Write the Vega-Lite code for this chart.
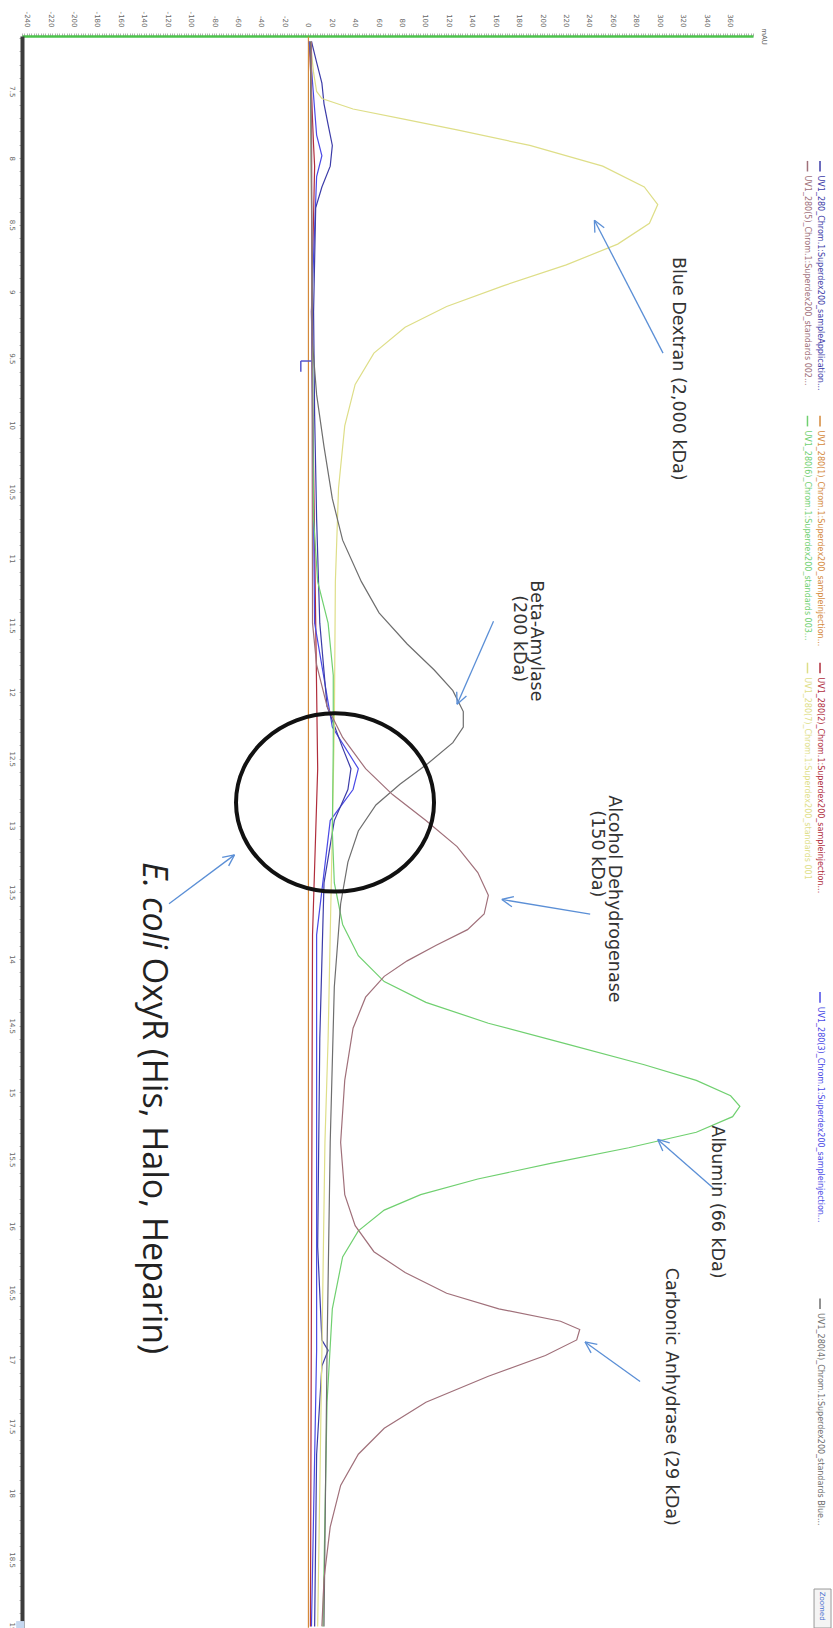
{
  "$schema": "https://vega.github.io/schema/vega-lite/v6.json",
  "width": 731,
  "height": 1592,
  "autosize": {"type": "none"},
  "padding": {"left": 22, "top": 36, "right": 80, "bottom": 0},
  "background": "white",
  "config": {"view": {"stroke": null}, "font": "Liberation Sans"},
  "datasets": {
    "curves": [
      {"key": "r1", "ml": 7.09, "mAU": 0.5}, {"key": "r1", "ml": 19.01, "mAU": 0.5},
      {"key": "r2", "ml": 7.126, "mAU": 1.3}, {"key": "r2", "ml": 7.905, "mAU": 4.9}, {"key": "r2", "ml": 8.06, "mAU": 5.8}, {"key": "r2", "ml": 9.15, "mAU": 3.1}, {"key": "r2", "ml": 12.574, "mAU": 8.4}, {"key": "r2", "ml": 13.819, "mAU": 4}, {"key": "r2", "ml": 19.0, "mAU": 2.2},
      {"key": "r3", "ml": 7.126, "mAU": 1.3}, {"key": "r3", "ml": 7.827, "mAU": 7.5}, {"key": "r3", "ml": 7.982, "mAU": 12}, {"key": "r3", "ml": 8.138, "mAU": 7.5}, {"key": "r3", "ml": 9.15, "mAU": 3.1}, {"key": "r3", "ml": 11.484, "mAU": 5.8}, {"key": "r3", "ml": 12.263, "mAU": 20.9}, {"key": "r3", "ml": 12.574, "mAU": 43.1}, {"key": "r3", "ml": 12.73, "mAU": 38.6}, {"key": "r3", "ml": 12.963, "mAU": 19.1}, {"key": "r3", "ml": 13.819, "mAU": 7.5}, {"key": "r3", "ml": 16.932, "mAU": 7.5}, {"key": "r3", "ml": 19.0, "mAU": 3.1},
      {"key": "app", "ml": 7.126, "mAU": 3.1}, {"key": "app", "ml": 7.282, "mAU": 7.5}, {"key": "app", "ml": 7.438, "mAU": 12}, {"key": "app", "ml": 7.593, "mAU": 13.8}, {"key": "app", "ml": 7.749, "mAU": 17.3}, {"key": "app", "ml": 7.905, "mAU": 20.9}, {"key": "app", "ml": 8.06, "mAU": 19.1}, {"key": "app", "ml": 8.216, "mAU": 12}, {"key": "app", "ml": 8.372, "mAU": 6.7}, {"key": "app", "ml": 9.15, "mAU": 4.9}, {"key": "app", "ml": 9.928, "mAU": 5.8}, {"key": "app", "ml": 10.706, "mAU": 7.5}, {"key": "app", "ml": 11.484, "mAU": 10.2}, {"key": "app", "ml": 12.107, "mAU": 16.4}, {"key": "app", "ml": 12.418, "mAU": 29.7}, {"key": "app", "ml": 12.574, "mAU": 36.8}, {"key": "app", "ml": 12.73, "mAU": 34.2}, {"key": "app", "ml": 12.963, "mAU": 22.6}, {"key": "app", "ml": 13.43, "mAU": 13.8}, {"key": "app", "ml": 14.597, "mAU": 10.2}, {"key": "app", "ml": 16.154, "mAU": 8.4}, {"key": "app", "ml": 16.854, "mAU": 12}, {"key": "app", "ml": 16.932, "mAU": 17.3}, {"key": "app", "ml": 17.049, "mAU": 12}, {"key": "app", "ml": 17.71, "mAU": 7.5}, {"key": "app", "ml": 19.0, "mAU": 5.8},
      {"key": "s7", "ml": 7.126, "mAU": 2.2}, {"key": "s7", "ml": 7.36, "mAU": 4.9}, {"key": "s7", "ml": 7.5, "mAU": 7.5}, {"key": "s7", "ml": 7.554, "mAU": 12}, {"key": "s7", "ml": 7.632, "mAU": 38.6}, {"key": "s7", "ml": 7.71, "mAU": 83}, {"key": "s7", "ml": 7.788, "mAU": 127.4}, {"key": "s7", "ml": 7.905, "mAU": 189.5}, {"key": "s7", "ml": 8.06, "mAU": 251.7}, {"key": "s7", "ml": 8.216, "mAU": 287.2}, {"key": "s7", "ml": 8.348, "mAU": 298.7}, {"key": "s7", "ml": 8.488, "mAU": 291.6}, {"key": "s7", "ml": 8.644, "mAU": 264.5}, {"key": "s7", "ml": 8.8, "mAU": 220.6}, {"key": "s7", "ml": 8.955, "mAU": 167.3}, {"key": "s7", "ml": 9.111, "mAU": 118.5}, {"key": "s7", "ml": 9.267, "mAU": 83}, {"key": "s7", "ml": 9.461, "mAU": 56.4}, {"key": "s7", "ml": 9.695, "mAU": 40.4}, {"key": "s7", "ml": 10.006, "mAU": 31.5}, {"key": "s7", "ml": 10.473, "mAU": 26.2}, {"key": "s7", "ml": 11.173, "mAU": 23.5}, {"key": "s7", "ml": 12.263, "mAU": 22.6}, {"key": "s7", "ml": 13.041, "mAU": 20.9}, {"key": "s7", "ml": 13.819, "mAU": 19.1}, {"key": "s7", "ml": 14.597, "mAU": 17.3}, {"key": "s7", "ml": 15.375, "mAU": 14.6}, {"key": "s7", "ml": 16.932, "mAU": 12}, {"key": "s7", "ml": 19.0, "mAU": 8.4},
      {"key": "s6", "ml": 7.126, "mAU": 2.2}, {"key": "s6", "ml": 10.706, "mAU": 4.9}, {"key": "s6", "ml": 11.173, "mAU": 8.4}, {"key": "s6", "ml": 11.484, "mAU": 17.3}, {"key": "s6", "ml": 11.874, "mAU": 21.7}, {"key": "s6", "ml": 12.418, "mAU": 21.7}, {"key": "s6", "ml": 13.041, "mAU": 20.9}, {"key": "s6", "ml": 13.43, "mAU": 22.6}, {"key": "s6", "ml": 13.741, "mAU": 29.7}, {"key": "s6", "ml": 13.975, "mAU": 43.1}, {"key": "s6", "ml": 14.169, "mAU": 65.2}, {"key": "s6", "ml": 14.325, "mAU": 100.8}, {"key": "s6", "ml": 14.481, "mAU": 154.1}, {"key": "s6", "ml": 14.636, "mAU": 220.6}, {"key": "s6", "ml": 14.792, "mAU": 287.2}, {"key": "s6", "ml": 14.909, "mAU": 331.6}, {"key": "s6", "ml": 15.025, "mAU": 360.9}, {"key": "s6", "ml": 15.103, "mAU": 368.8}, {"key": "s6", "ml": 15.181, "mAU": 362.6}, {"key": "s6", "ml": 15.298, "mAU": 331.6}, {"key": "s6", "ml": 15.414, "mAU": 273.9}, {"key": "s6", "ml": 15.531, "mAU": 207.3}, {"key": "s6", "ml": 15.648, "mAU": 145.1}, {"key": "s6", "ml": 15.765, "mAU": 96.3}, {"key": "s6", "ml": 15.881, "mAU": 65.2}, {"key": "s6", "ml": 16.037, "mAU": 43.1}, {"key": "s6", "ml": 16.232, "mAU": 29.7}, {"key": "s6", "ml": 16.621, "mAU": 20.9}, {"key": "s6", "ml": 17.321, "mAU": 16.4}, {"key": "s6", "ml": 19.0, "mAU": 12.9},
      {"key": "s4", "ml": 7.126, "mAU": 2.2}, {"key": "s4", "ml": 9.383, "mAU": 4}, {"key": "s4", "ml": 9.772, "mAU": 7.5}, {"key": "s4", "ml": 10.161, "mAU": 13.8}, {"key": "s4", "ml": 10.551, "mAU": 20.9}, {"key": "s4", "ml": 10.862, "mAU": 29.7}, {"key": "s4", "ml": 11.173, "mAU": 45.7}, {"key": "s4", "ml": 11.407, "mAU": 60.8}, {"key": "s4", "ml": 11.64, "mAU": 84.8}, {"key": "s4", "ml": 11.835, "mAU": 107.9}, {"key": "s4", "ml": 11.99, "mAU": 123.8}, {"key": "s4", "ml": 12.146, "mAU": 132.7}, {"key": "s4", "ml": 12.263, "mAU": 132.7}, {"key": "s4", "ml": 12.379, "mAU": 123.8}, {"key": "s4", "ml": 12.535, "mAU": 102.5}, {"key": "s4", "ml": 12.691, "mAU": 78.6}, {"key": "s4", "ml": 12.846, "mAU": 58.1}, {"key": "s4", "ml": 13.041, "mAU": 43.1}, {"key": "s4", "ml": 13.274, "mAU": 34.2}, {"key": "s4", "ml": 13.586, "mAU": 28}, {"key": "s4", "ml": 14.208, "mAU": 22.6}, {"key": "s4", "ml": 15.375, "mAU": 19.1}, {"key": "s4", "ml": 16.932, "mAU": 16.4}, {"key": "s4", "ml": 19.0, "mAU": 13.8},
      {"key": "s5", "ml": 7.126, "mAU": 3.1}, {"key": "s5", "ml": 11.484, "mAU": 4}, {"key": "s5", "ml": 11.796, "mAU": 7.5}, {"key": "s5", "ml": 12.107, "mAU": 16.4}, {"key": "s5", "ml": 12.34, "mAU": 29.7}, {"key": "s5", "ml": 12.574, "mAU": 49.3}, {"key": "s5", "ml": 12.768, "mAU": 72.3}, {"key": "s5", "ml": 12.963, "mAU": 100.8}, {"key": "s5", "ml": 13.158, "mAU": 127.4}, {"key": "s5", "ml": 13.352, "mAU": 145.1}, {"key": "s5", "ml": 13.523, "mAU": 154.1}, {"key": "s5", "ml": 13.663, "mAU": 150.5}, {"key": "s5", "ml": 13.78, "mAU": 136.3}, {"key": "s5", "ml": 13.897, "mAU": 109.6}, {"key": "s5", "ml": 14.014, "mAU": 84.8}, {"key": "s5", "ml": 14.13, "mAU": 65.2}, {"key": "s5", "ml": 14.286, "mAU": 49.3}, {"key": "s5", "ml": 14.519, "mAU": 38.6}, {"key": "s5", "ml": 14.909, "mAU": 31.5}, {"key": "s5", "ml": 15.375, "mAU": 28}, {"key": "s5", "ml": 15.765, "mAU": 31.5}, {"key": "s5", "ml": 15.998, "mAU": 40.4}, {"key": "s5", "ml": 16.193, "mAU": 56.4}, {"key": "s5", "ml": 16.348, "mAU": 83}, {"key": "s5", "ml": 16.504, "mAU": 118.5}, {"key": "s5", "ml": 16.621, "mAU": 163}, {"key": "s5", "ml": 16.714, "mAU": 215.7}, {"key": "s5", "ml": 16.776, "mAU": 232.1}, {"key": "s5", "ml": 16.854, "mAU": 229.5}, {"key": "s5", "ml": 16.971, "mAU": 202.8}, {"key": "s5", "ml": 17.126, "mAU": 154.1}, {"key": "s5", "ml": 17.321, "mAU": 100.8}, {"key": "s5", "ml": 17.516, "mAU": 65.2}, {"key": "s5", "ml": 17.71, "mAU": 43.1}, {"key": "s5", "ml": 17.944, "mAU": 28}, {"key": "s5", "ml": 18.255, "mAU": 19.1}, {"key": "s5", "ml": 18.644, "mAU": 13.8}, {"key": "s5", "ml": 19.0, "mAU": 12}
    ],
    "legend": [
      {"key": "app", "label": "UV1_280_Chrom.1:Superdex200_sampleApplication...", "mAU": 437.2, "ml": 8.021, "ml2": 8.1, "tml": 8.13},
      {"key": "r1", "label": "UV1_280(1)_Chrom.1:Superdex200_sampleinjection...", "mAU": 437.2, "ml": 9.93, "ml2": 10.01, "tml": 10.04},
      {"key": "r2", "label": "UV1_280(2)_Chrom.1:Superdex200_sampleinjection...", "mAU": 437.2, "ml": 11.78, "ml2": 11.86, "tml": 11.89},
      {"key": "r3", "label": "UV1_280(3)_Chrom.1:Superdex200_sampleinjection...", "mAU": 437.2, "ml": 14.247, "ml2": 14.327, "tml": 14.357},
      {"key": "s4", "label": "UV1_280(4)_Chrom.1:Superdex200_standards Blue...", "mAU": 437.2, "ml": 16.543, "ml2": 16.623, "tml": 16.653},
      {"key": "s5", "label": "UV1_280(5)_Chrom.1:Superdex200_standards 002...", "mAU": 426.5, "ml": 8.021, "ml2": 8.1, "tml": 8.13},
      {"key": "s6", "label": "UV1_280(6)_Chrom.1:Superdex200_standards 003...", "mAU": 426.5, "ml": 9.93, "ml2": 10.01, "tml": 10.04},
      {"key": "s7", "label": "UV1_280(7)_Chrom.1:Superdex200_standards 001", "mAU": 426.5, "ml": 11.78, "ml2": 11.86, "tml": 11.89}
    ],
    "arrows": [
      {"mAU": 303.2, "ml": 9.461, "mAU2": 244.6, "ml2": 8.465}, {"mAU": 244.6, "ml": 8.465, "mAU2": 245.0, "ml2": 8.558}, {"mAU": 244.6, "ml": 8.465, "mAU2": 253.0, "ml2": 8.522},
      {"mAU": 158.5, "ml": 11.469, "mAU2": 127.4, "ml2": 12.091}, {"mAU": 127.4, "ml": 12.091, "mAU2": 135.4, "ml2": 12.03}, {"mAU": 127.4, "ml": 12.091, "mAU2": 127.1, "ml2": 11.998},
      {"mAU": 241.0, "ml": 13.663, "mAU2": 165.6, "ml2": 13.554}, {"mAU": 165.6, "ml": 13.554, "mAU2": 174.2, "ml2": 13.609}, {"mAU": 165.6, "ml": 13.554, "mAU2": 175.9, "ml2": 13.532},
      {"mAU": 347.5, "ml": 15.726, "mAU2": 298.7, "ml2": 15.352}, {"mAU": 298.7, "ml": 15.352, "mAU2": 303.0, "ml2": 15.438}, {"mAU": 298.7, "ml": 15.352, "mAU2": 308.9, "ml2": 15.378},
      {"mAU": 283.6, "ml": 17.165, "mAU2": 236.6, "ml2": 16.869}, {"mAU": 236.6, "ml": 16.869, "mAU2": 241.8, "ml2": 16.951}, {"mAU": 236.6, "ml": 16.869, "mAU2": 247.1, "ml2": 16.887},
      {"mAU": -118.5, "ml": 13.586, "mAU2": -62.6, "ml2": 13.22}, {"mAU": -62.6, "ml": 13.22, "mAU2": -73.1, "ml2": 13.238}, {"mAU": -62.6, "ml": 13.22, "mAU2": -67.6, "ml2": 13.302}
    ],
    "marker": [
      {"mAU": -6, "ml": 9.52, "mAU2": 3, "ml2": 9.52},
      {"mAU": -6, "ml": 9.52, "mAU2": -6, "ml2": 9.6}
    ],
    "notes": [
      {"text": "Blue Dextran (2,000 kDa)", "mAU": 315.6, "ml": 9.578},
      {"text": "Beta-Amylase", "mAU": 195, "ml": 11.617},
      {"text": "(200 kDa)", "mAU": 180, "ml": 11.6},
      {"text": "Alcohol Dehydrogenase", "mAU": 261, "ml": 13.55},
      {"text": "(150 kDa)", "mAU": 247, "ml": 13.212},
      {"text": "Albumin (66 kDa)", "mAU": 349.3, "ml": 15.82},
      {"text": "Carbonic Anhydrase (29 kDa)", "mAU": 310.2, "ml": 17.28}
    ]
  },
  "layer": [
    {
      "data": {"name": "curves"},
      "mark": {"type": "line", "strokeWidth": 1.2, "clip": true},
      "encoding": {
        "x": {"field": "mAU", "type": "quantitative", "scale": {"domain": [-244, 380], "nice": false, "zero": false},
          "axis": {"orient": "top", "tickCount": 312, "labelExpr": "(round(datum.value) % 20 === 0 && datum.value < 370) ? toString(round(datum.value)) : ''", "labelAngle": 90, "labelAlign": "right", "labelBaseline": "middle", "labelFont": "DejaVu Sans", "labelFontSize": 7, "labelColor": "#666", "labelPadding": 6, "labelOverlap": false, "labelBound": false, "labelFlush": false, "tickSize": 3, "tickColor": "#b0b0b0", "tickWidth": 1, "domainColor": "#4cc34c", "domainWidth": 2.5, "grid": false, "title": "mAU", "titleAngle": 90, "titleX": 741, "titleY": 0, "titleAlign": "center", "titleBaseline": "middle", "titleFont": "DejaVu Sans", "titleFontSize": 7, "titleFontWeight": "normal", "titleColor": "#666"}},
        "y": {"field": "ml", "type": "quantitative", "scale": {"domain": [7.085, 19.012], "nice": false, "zero": false, "reverse": true},
          "axis": {"orient": "left", "tickCount": 120, "labelExpr": "round(datum.value*10) % 5 === 0 ? toString(round(datum.value*10)/10) : ''", "labelAngle": 90, "labelAlign": "center", "labelBaseline": "top", "labelFont": "DejaVu Sans", "labelFontSize": 7, "labelColor": "#666", "labelPadding": 4, "labelOverlap": false, "labelBound": false, "labelFlush": false, "tickSize": 3, "tickColor": "#b0b0b0", "domainColor": "#3c3c3c", "domainWidth": 4, "grid": false, "title": ""}},
        "order": {"field": "ml", "type": "quantitative"},
        "color": {"field": "key", "type": "nominal", "legend": null, "scale": {"domain": ["r1", "r2", "r3", "app", "s7", "s6", "s4", "s5"], "range": ["#d4893a", "#b02d3c", "#4a4ae6", "#3c3ca8", "#dede88", "#70d070", "#6e6e6e", "#a0707a"]}}
      }
    },
    {
      "data": {"name": "marker"},
      "mark": {"type": "rule", "color": "#5555cc", "strokeWidth": 1.5},
      "encoding": {
        "x": {"field": "mAU", "type": "quantitative"},
        "y": {"field": "ml", "type": "quantitative"},
        "x2": {"field": "mAU2"},
        "y2": {"field": "ml2"}
      }
    },
    {
      "data": {"values": [{"mAU": -249, "mAU2": -242, "ml": 18.96, "ml2": 19.012}]},
      "mark": {"type": "rect", "fill": "#c5d8f0"},
      "encoding": {
        "x": {"field": "mAU", "type": "quantitative"},
        "x2": {"field": "mAU2"},
        "y": {"field": "ml", "type": "quantitative"},
        "y2": {"field": "ml2"}
      }
    },
    {
      "data": {"name": "legend"},
      "mark": {"type": "rule", "strokeWidth": 1.5},
      "encoding": {
        "x": {"field": "mAU", "type": "quantitative"},
        "y": {"field": "ml", "type": "quantitative"},
        "y2": {"field": "ml2"},
        "color": {"field": "key", "type": "nominal", "legend": null}
      }
    },
    {
      "data": {"name": "legend"},
      "mark": {"type": "text", "angle": 90, "align": "left", "baseline": "middle", "font": "DejaVu Sans", "fontSize": 8},
      "encoding": {
        "x": {"field": "mAU", "type": "quantitative"},
        "y": {"field": "tml", "type": "quantitative"},
        "text": {"field": "label"},
        "color": {"field": "key", "type": "nominal", "legend": null}
      }
    },
    {
      "data": {"name": "arrows"},
      "mark": {"type": "rule", "color": "#5b8fd6", "strokeWidth": 1.3},
      "encoding": {
        "x": {"field": "mAU", "type": "quantitative"},
        "y": {"field": "ml", "type": "quantitative"},
        "x2": {"field": "mAU2"},
        "y2": {"field": "ml2"}
      }
    },
    {
      "data": {"name": "notes"},
      "mark": {"type": "text", "angle": 90, "align": "center", "baseline": "middle", "font": "DejaVu Sans", "fontSize": 17.5, "color": "#333"},
      "encoding": {
        "x": {"field": "mAU", "type": "quantitative"},
        "y": {"field": "ml", "type": "quantitative"},
        "text": {"field": "text"}
      }
    },
    {
      "data": {"values": [{"text": "E. coli", "mAU": -131.8, "ml": 13.274}]},
      "mark": {"type": "text", "angle": 90, "align": "left", "baseline": "middle", "fontSize": 34, "font": "Open Sans", "fontStyle": "italic", "color": "#222"},
      "encoding": {
        "x": {"field": "mAU", "type": "quantitative"},
        "y": {"field": "ml", "type": "quantitative"},
        "text": {"field": "text"}
      }
    },
    {
      "data": {"values": [{"text": "OxyR (His, Halo, Heparin)", "mAU": -131.8, "ml": 13.99}]},
      "mark": {"type": "text", "angle": 90, "align": "left", "baseline": "middle", "fontSize": 34, "font": "Open Sans", "color": "#222"},
      "encoding": {
        "x": {"field": "mAU", "type": "quantitative"},
        "y": {"field": "ml", "type": "quantitative"},
        "text": {"field": "text"}
      }
    },
    {
      "data": {"values": [{"mAU": 23.2, "ml": 12.827}]},
      "mark": {"type": "point", "shape": "M -1 0 A 1 0.9 0 1 1 1 0 A 1 0.9 0 1 1 -1 0 Z", "size": 39204, "filled": false, "stroke": "#111", "strokeWidth": 4, "opacity": 1},
      "encoding": {
        "x": {"field": "mAU", "type": "quantitative"},
        "y": {"field": "ml", "type": "quantitative"}
      }
    },
    {
      "data": {"values": [{"mAU": 432.1, "mAU2": 446.6, "ml": 18.72, "ml2": 19.012}]},
      "mark": {"type": "rect", "fill": "#f4f4f4", "stroke": "#999", "strokeWidth": 1},
      "encoding": {
        "x": {"field": "mAU", "type": "quantitative"},
        "x2": {"field": "mAU2"},
        "y": {"field": "ml", "type": "quantitative"},
        "y2": {"field": "ml2"}
      }
    },
    {
      "data": {"values": [{"text": "Zoomed", "mAU": 439.3, "ml": 18.74}]},
      "mark": {"type": "text", "angle": 90, "align": "left", "baseline": "middle", "font": "DejaVu Sans", "fontSize": 7, "color": "#4a6fd0"},
      "encoding": {
        "x": {"field": "mAU", "type": "quantitative"},
        "y": {"field": "ml", "type": "quantitative"},
        "text": {"field": "text"}
      }
    }
  ]
}
